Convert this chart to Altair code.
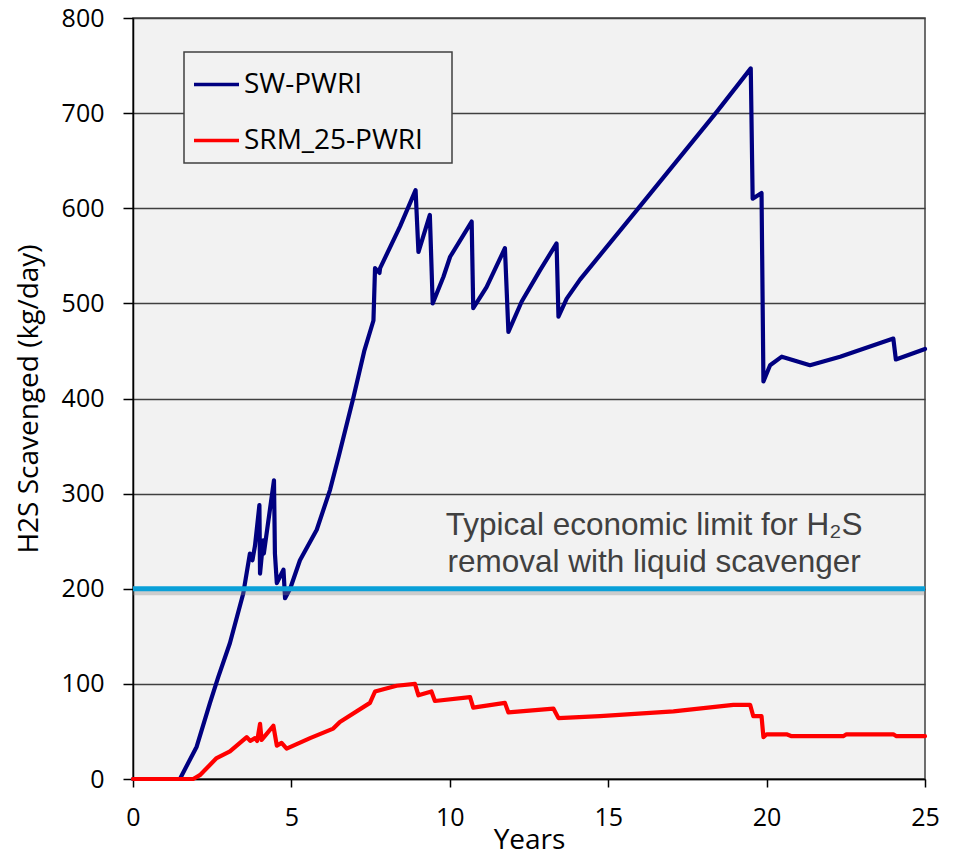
import altair as alt
import pandas as pd

# ---------------- data ----------------
series_names = ["SW-PWRI", "SRM_25-PWRI"]
series_colors = ["#000080", "#ff0000"]

sw_years = [0, 1.48, 2.01, 2.43, 2.69, 3.06, 3.48, 3.69, 3.77, 3.85, 3.99, 4.01, 4.11, 4.13,
            4.45, 4.48, 4.54, 4.75, 4.80, 4.96, 5.27, 5.80, 6.22, 6.50, 6.95, 7.30, 7.59,
            7.64, 7.78, 7.80, 8.43, 8.92, 9.01, 9.37, 9.46, 9.80, 10.01, 10.69, 10.74,
            11.16, 11.74, 11.85, 12.27, 12.85, 13.37, 13.43, 13.69, 14.11, 16.00, 18.42,
            19.50, 19.56, 19.84, 19.90, 20.11, 20.48, 21.37, 22.32, 24.00, 24.08, 25.00]
sw_values = [0, 0, 34, 80, 107, 143, 195, 237, 230, 245, 288, 216, 251, 237,
             314, 237, 206, 220, 190, 200, 230, 262, 304, 340, 400, 450, 482,
             537, 532, 537, 581, 619, 554, 593, 500, 528, 549, 586, 495,
             517, 558, 470, 502, 535, 563, 486, 505, 525, 602, 701,
             747, 610, 616, 418, 435, 444, 435, 444, 463, 441, 452]

srm_years = [0, 1.90, 2.11, 2.64, 3.06, 3.59, 3.70, 3.85, 3.92, 4.01, 4.06, 4.16, 4.43,
             4.54, 4.69, 4.85, 5.59, 6.32, 6.53, 7.48, 7.64, 8.32, 8.90, 9.01, 9.42,
             9.53, 10.64, 10.74, 11.74, 11.85, 13.27, 13.43, 14.74, 17.06, 18.95, 19.48,
             19.58, 19.84, 19.90, 20.00, 20.63, 20.79, 22.42, 22.52, 24.00, 24.10, 25.00]
srm_values = [0, 0, 4, 22, 29, 44, 40, 43, 40, 58, 41, 45, 56,
              35, 38, 32, 43, 53, 60, 80, 92, 98, 100, 88, 92,
              82, 86, 75, 80, 70, 74, 64, 66, 71, 78, 78,
              66, 66, 44, 47, 47, 45, 45, 47, 47, 45, 45]

limit_value = 200
annotation_lines = ["Typical economic limit for H\u2082S", "removal with liquid scavenger"]
x_ticks = [0, 5, 10, 15, 20, 25]
y_ticks = [0, 100, 200, 300, 400, 500, 600, 700, 800]

# ---------------- table ----------------
rows = []
for name, xs, ys in [(series_names[0], sw_years, sw_values),
                     (series_names[1], srm_years, srm_values)]:
    for i, (x, y) in enumerate(zip(xs, ys)):
        rows.append({"series": name, "years": x, "value": y, "idx": i})
df = pd.DataFrame(rows)

x_scale = alt.Scale(domain=[0, 25], nice=False, zero=False)
y_scale = alt.Scale(domain=[0, 800], nice=False)

base = alt.Chart(df)

lines = base.mark_line(strokeWidth=4.2, strokeJoin="round", strokeCap="round").encode(
    x=alt.X("years:Q", scale=x_scale,
            axis=alt.Axis(values=x_ticks, title="Years", grid=False, tickSize=8,
                          labelPadding=18, titlePadding=-4, labelFlush=False)),
    y=alt.Y("value:Q", scale=y_scale,
            axis=alt.Axis(values=y_ticks, title="H2S Scavenged (kg/day)", grid=True,
                          tickSize=10, labelPadding=19, titlePadding=18)),
    color=alt.Color("series:N",
                    scale=alt.Scale(domain=series_names, range=series_colors),
                    sort=series_names,
                    legend=alt.Legend(title=None, orient="none", legendX=51, legendY=34,
                                      direction="vertical",
                                      labelExpr="datum.label + '\u2800'")),
    order=alt.Order("idx:Q"),
)

shadow = alt.Chart(pd.DataFrame({"v": [limit_value]})).mark_rule(
    color="#888888", strokeWidth=5, opacity=0.35
).encode(y=alt.Y("v:Q", scale=y_scale), yOffset=alt.value(4))

limit_rule = alt.Chart(pd.DataFrame({"v": [limit_value]})).mark_rule(
    color="#0aa0d8", strokeWidth=5
).encode(y=alt.Y("v:Q", scale=y_scale))

note = alt.Chart(pd.DataFrame({"v": [limit_value]})).mark_text(
    font="Liberation Sans", fontSize=31.5, color="#404040", align="center",
    baseline="middle", lineHeight=37
).encode(
    x=alt.datum(16.45, scale=x_scale),
    y=alt.datum(265.5, scale=y_scale),
    text=alt.value(annotation_lines),
)

chart = alt.layer(lines, shadow, limit_rule, note).properties(
    width=792, height=761,
    autosize=alt.AutoSizeParams(type="none"),
    padding={"left": 133, "top": 18, "right": 29, "bottom": 77},
    background="white",
).configure_view(
    fill="#f2f2f2", stroke="#404040", strokeWidth=1.5
).configure_axis(
    labelFont="Open Sans", labelFontSize=25, labelColor="black",
    titleFont="Open Sans", titleFontSize=28, titleFontWeight="normal", titleColor="black",
    domainColor="black", domainWidth=1.5, tickColor="black", tickWidth=1.5,
    gridColor="#404040", gridWidth=1.5,
).configure_legend(
    symbolType="stroke", symbolSize=2025, symbolStrokeWidth=3.5,
    labelFont="Open Sans", labelFontSize=28, labelColor="black", labelOffset=3,
    rowPadding=17, padding=8, strokeColor="#404040", strokeWidth=1.5,
    fillColor="#f2f2f2", labelLimit=400,
)

chart.save("out.html", embed_options={"renderer": "svg", "actions": False})
